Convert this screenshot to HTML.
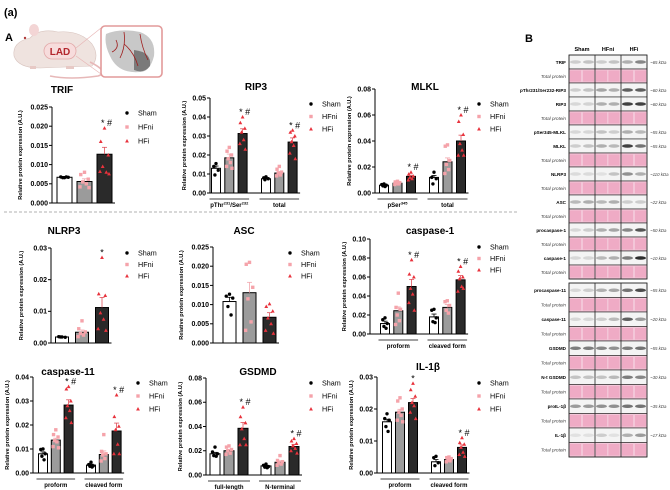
<!DOCTYPE html>
<html><head><meta charset="utf-8">
<style>
html,body{margin:0;padding:0;background:#fff;}
svg{display:block;font-family:"Liberation Sans",Arial,sans-serif;}
</style></head>
<body>
<svg id="fig" width="670" height="490" viewBox="0 0 670 490" xmlns="http://www.w3.org/2000/svg">
  <text x="4" y="16" font-size="11" font-weight="bold">(a)</text>
  <text x="5" y="41" font-size="11" font-weight="bold">A</text>
  <text x="525" y="42" font-size="11" font-weight="bold">B</text>
  <g>
    <path d="M14 56 Q12 42 30 38 Q40 28 58 32 Q80 30 92 44 Q100 56 92 66 L40 68 Q18 68 14 56 Z" fill="#efe3df" stroke="#d8c4bf" stroke-width="0.6"/>
    <ellipse cx="34" cy="30" rx="5" ry="6" fill="#f3d5d5"/>
    <circle cx="25" cy="38" r="1.2" fill="#b03a3a"/>
    <path d="M90 62 Q110 72 98 76 Q70 80 50 76" fill="none" stroke="#e7b8b8" stroke-width="1.6"/>
    <rect x="30" y="66" width="6" height="3" fill="#e7c9c5"/><rect x="66" y="66" width="8" height="3" fill="#e7c9c5"/>
    <rect x="44" y="43" width="32" height="16" rx="8" fill="#f7dcdc" stroke="#e2a8a8" stroke-width="0.8"/>
    <text x="60" y="55" font-size="10" font-weight="bold" fill="#b3262d" text-anchor="middle">LAD</text>
    <line x1="76" y1="48" x2="101" y2="28" stroke="#e8b4b4" stroke-width="0.6"/>
    <line x1="76" y1="56" x2="101" y2="74" stroke="#e8b4b4" stroke-width="0.6"/>
    <rect x="101" y="26" width="61" height="51" rx="4" fill="#fff" stroke="#e29a9a" stroke-width="1.6"/>
    <path d="M106 34 Q120 28 140 32 Q156 38 154 56 Q150 72 140 72 Q118 74 110 56 Q104 44 106 34 Z" fill="#c8c8c8"/>
    <path d="M134 50 Q152 52 150 66 Q144 74 134 70 Z" fill="#7a7a7a"/>
    <path d="M124 32 Q126 46 120 58 M124 44 Q134 52 138 66 M140 34 Q142 48 148 60 M116 40 Q120 48 112 52" stroke="#9e1b1b" stroke-width="0.8" fill="none"/>
  </g>
  <line x1="4" y1="212" x2="518" y2="212" stroke="#999" stroke-width="0.8" stroke-dasharray="3,2"/>
  <g id="charts"></g>
  <g id="blot"></g>
</svg>
<script>
// ---------- DATA ----------
const groupNames = ["Sham","HFni","HFi"];
const trifMeans = [[0.0067,0.0056,0.0127]];
const trifErr = [[0.0002,0.0007,0.0018]];
const trifPts = [[[0.0066,0.0068,0.0067,0.0066,0.0068],[0.008,0.0074,0.0062,0.0055,0.005,0.0042,0.004],[0.0195,0.016,0.0125,0.0095,0.008,0.0082,0.0076]]];
const trifStars = [["","","* #"]];
const trifTicks = [0,0.005,0.010,0.015,0.020,0.025];

const rip3Means = [[0.013,0.0185,0.0313],[0.0075,0.0105,0.0268]];
const rip3Err = [[0.0012,0.002,0.0025],[0.0004,0.0008,0.0022]];
const rip3Pts = [[[0.0155,0.014,0.012,0.0095],[0.024,0.022,0.02,0.018,0.016,0.014,0.013],[0.04,0.037,0.034,0.032,0.028,0.026,0.023]],
                 [[0.0085,0.008,0.0075,0.007],[0.014,0.0125,0.011,0.0105,0.0095,0.009],[0.033,0.032,0.03,0.027,0.025,0.021,0.018]]];
const rip3Stars = [["","","* #"],["","","* #"]];
const rip3Ticks = [0,0.01,0.02,0.03,0.04,0.05];
const rip3Groups = ["pThr231/Ser232","total"];

const mlklMeans = [[0.006,0.0075,0.0128],[0.012,0.024,0.040]];
const mlklErr = [[0.0004,0.0005,0.0009],[0.0015,0.003,0.0045]];
const mlklPts = [[[0.007,0.0065,0.006,0.0055,0.005],[0.009,0.0085,0.008,0.0075,0.007,0.0065],[0.016,0.0145,0.013,0.012,0.011,0.01]],
                 [[0.016,0.012,0.011,0.007],[0.037,0.036,0.025,0.022,0.018,0.015],[0.06,0.055,0.045,0.038,0.033,0.029,0.029]]];
const mlklStars = [["","","* #"],["","","* #"]];
const mlklTicks = [0,0.02,0.04,0.06,0.08];
const mlklGroups = ["pSer345","total"];

const nlrp3Means = [[0.0019,0.0034,0.0112]];
const nlrp3Err = [[0.0001,0.0007,0.0032]];
const nlrp3Pts = [[[0.0019,0.002,0.0018,0.0019],[0.007,0.0045,0.0035,0.003,0.0025,0.002],[0.027,0.0155,0.015,0.0095,0.0075,0.0045,0.004]]];
const nlrp3Stars = [["","","*"]];
const nlrp3Ticks = [0,0.01,0.02,0.03];

const ascMeans = [[0.0108,0.0131,0.0067]];
const ascErr = [[0.0011,0.0027,0.0012]];
const ascPts = [[[0.0127,0.0122,0.0117,0.0095,0.0073],[0.021,0.0205,0.0145,0.0115,0.0055,0.0033],[0.0102,0.0095,0.0083,0.0065,0.005,0.0033,0.0025]]];
const ascStars = [["","",""]];
const ascTicks = [0,0.005,0.010,0.015,0.020,0.025];

const casp1Means = [[0.011,0.0245,0.050],[0.018,0.028,0.057]];
const casp1Err = [[0.0025,0.004,0.0075],[0.003,0.003,0.0045]];
const casp1Pts = [[[0.017,0.015,0.011,0.008,0.006],[0.043,0.028,0.026,0.02,0.014,0.01],[0.078,0.063,0.06,0.048,0.042,0.033,0.025]],
                  [[0.026,0.025,0.017,0.013,0.012],[0.035,0.034,0.03,0.025,0.022],[0.071,0.066,0.06,0.058,0.05,0.045,0.048]]];
const casp1Stars = [["","","* #"],["","","* #"]];
const casp1Ticks = [0,0.02,0.04,0.06,0.08,0.10];
const casp1Groups = ["proform","cleaved form"];

const casp11Means = [[0.008,0.0137,0.0283],[0.0033,0.0077,0.0175]];
const casp11Err = [[0.0008,0.0008,0.0022],[0.0004,0.0015,0.0033]];
const casp11Pts = [[[0.01,0.0098,0.008,0.007,0.0055],[0.018,0.016,0.015,0.0135,0.013,0.011,0.0105],[0.036,0.035,0.03,0.028,0.026,0.023,0.021]],
                   [[0.0045,0.0035,0.003,0.0028,0.0025],[0.016,0.009,0.008,0.0075,0.006,0.005],[0.0325,0.0235,0.0195,0.018,0.012,0.008,0.008]]];
const casp11Stars = [["","","* #"],["","","* #"]];
const casp11Ticks = [0,0.01,0.02,0.03,0.04];
const casp11Groups = ["proform","cleaved form"];

const gsdmdMeans = [[0.0175,0.020,0.0385],[0.0075,0.0105,0.0235]];
const gsdmdErr = [[0.0012,0.001,0.0048],[0.0005,0.0012,0.0018]];
const gsdmdPts = [[[0.023,0.019,0.0175,0.016,0.0155],[0.024,0.023,0.021,0.02,0.018,0.017],[0.056,0.048,0.043,0.038,0.03,0.025,0.025]],
                  [[0.009,0.008,0.007,0.0065,0.006],[0.016,0.012,0.011,0.01,0.009,0.008],[0.03,0.028,0.026,0.024,0.022,0.02,0.018]]];
const gsdmdStars = [["","","* #"],["","","* #"]];
const gsdmdTicks = [0,0.02,0.04,0.06,0.08];
const gsdmdGroups = ["full-length","N-terminal"];

const il1bMeans = [[0.016,0.019,0.022],[0.0035,0.0042,0.0080]];
const il1bErr = [[0.0008,0.0009,0.0013],[0.0007,0.0003,0.0008]];
const il1bPts = [[[0.0185,0.017,0.0165,0.0145,0.013],[0.0235,0.0225,0.02,0.019,0.018,0.0165,0.016],[0.028,0.026,0.024,0.022,0.021,0.019,0.017]],
                 [[0.0052,0.0048,0.0032,0.0023],[0.005,0.0048,0.0045,0.004,0.0038,0.0035],[0.011,0.0095,0.009,0.008,0.0065,0.0058,0.0052]]];
const il1bStars = [["","","*"],["","","* #"]];
const il1bTicks = [0,0.01,0.02,0.03];
const il1bGroups = ["proform","cleaved form"];

// ---------- RENDER ----------
const NS = "http://www.w3.org/2000/svg";
function mk(tag, attrs, parent, text){
  const e = document.createElementNS(NS, tag);
  for (const k in attrs) e.setAttribute(k, attrs[k]);
  if (text !== undefined) e.textContent = text;
  parent.appendChild(e); return e;
}
const barFill = ["#ffffff","#9b9b9b","#2a2a2a"];
const errCol = ["#000","#f2a7ad","#e0505a"];
const jitter = [0,-2.5,2.5,-1.2,1.2,-3,3,0.6];

function drawMarker(g, k, x, y){
  let m;
  if (k===0){ m = mk("circle",{cx:x,cy:y,r:1.7,fill:"#000"},g); }
  else if (k===1){ m = mk("rect",{x:x-1.7,y:y-1.7,width:3.4,height:3.4,fill:"#f5a3aa"},g); }
  else { m = mk("polygon",{points:`${x},${y-2} ${x-1.9},${y+1.5} ${x+1.9},${y+1.5}`,fill:"#e8323c"},g); }
  return m;
}

function chart(c){
  const root = document.getElementById("charts");
  const g = mk("g",{},root);
  
  
  const ymax = c.ticks[c.ticks.length-1];
  const Y = v => c.y0 - (v/ymax)*(c.y0-c.yTop);
  const X = (gi,k) => c.start + gi*c.goff + k*c.step;
  const t = mk("text",{x:c.tx,y:c.ty,"font-size":10,"font-weight":"bold","text-anchor":"middle"},g,c.title);
  
  
  // y axis
  const ax = mk("line",{x1:c.ax,y1:c.yTop,x2:c.ax,y2:c.y0,stroke:"#000","stroke-width":1},g);
  
  
  c.ticks.forEach(v=>{
    mk("line",{x1:c.ax-3,y1:Y(v),x2:c.ax,y2:Y(v),stroke:"#000","stroke-width":1},g);
    const tl = mk("text",{x:c.ax-4,y:Y(v)+2.4,"font-size":7,"font-weight":"bold","text-anchor":"end"},g,v.toFixed(c.dec));
    
    
  });
  const yl = mk("text",{x:0,y:0,"font-size":5.6,"font-weight":"bold","text-anchor":"middle",
    transform:`translate(${c.ax-c.ylOff},${(c.y0+c.yTop)/2}) rotate(-90)`},g,"Relative protein expression (A.U.)");
  
  
  // x axis
  const xEnd = X(c.means.length-1,2)+c.bw/2+3;
  const xa = mk("line",{x1:c.ax,y1:c.y0,x2:xEnd,y2:c.y0,stroke:"#000","stroke-width":1},g);
  
  
  c.means.forEach((grp,gi)=>{
    grp.forEach((m,k)=>{
      const x = X(gi,k);
      const b = mk("rect",{x:x-c.bw/2,y:Y(m),width:c.bw,height:c.y0-Y(m),fill:barFill[k],stroke:"#000","stroke-width":1},g);
      
      
      const e = c.err[gi][k];
      mk("line",{x1:x,y1:Y(m),x2:x,y2:Y(m+e),stroke:errCol[k],"stroke-width":0.8},g);
      mk("line",{x1:x-2.5,y1:Y(m+e),x2:x+2.5,y2:Y(m+e),stroke:errCol[k],"stroke-width":0.8},g);
      const pts = c.pts[gi][k];
      pts.forEach((v,i)=>{
        const p = drawMarker(g,k,x+jitter[i%jitter.length]*(c.bw/10),Y(v));
        
        
      });
      const s = c.stars[gi][k];
      if (s){
        const top = Math.max(Math.max(...pts), m+e);
        const st = mk("text",{x:x+(s.length>1?2:0),y:Y(top)-2,"font-size":9,"text-anchor":"middle"},g,s);
        
        
      }
    });
    if (c.groups){
      const gx0 = X(gi,0)-c.bw/2-2, gx1 = X(gi,2)+c.bw/2+2;
      mk("line",{x1:gx0,y1:c.y0+6,x2:gx1,y2:c.y0+6,stroke:"#000","stroke-width":0.8},g);
      const lbl = c.groups[gi];
      const gt = mk("text",{x:(gx0+gx1)/2,y:c.y0+14,"font-size":6,"font-weight":"bold","text-anchor":"middle"},g);
      
      
      const m2 = lbl.match(/^(pThr)(\d+)(\/Ser)(\d+)$/) || lbl.match(/^(pSer)(\d+)$/);
      if (m2){
        mk("tspan",{},gt,m2[1]); mk("tspan",{dy:-2.5,"font-size":4},gt,m2[2]);
        if (m2[3]){ mk("tspan",{dy:2.5},gt,m2[3]); mk("tspan",{dy:-2.5,"font-size":4},gt,m2[4]); }
      } else gt.textContent = lbl;
    }
  });
  // legend
  groupNames.forEach((n,k)=>{
    const ly = c.ly + k*c.lstep;
    const lm = drawMarker(g,k,c.lx,ly);
    
    
    const lt = mk("text",{x:c.lx+11,y:ly+2.5,"font-size":7.2},g,n);
    
    
  });
}

const C = [
 {name:"trif",title:"TRIF",tx:62,ty:93,ax:52,y0:203,yTop:107,ticks:trifTicks,dec:3,means:trifMeans,err:trifErr,pts:trifPts,stars:trifStars,start:64.5,step:20,goff:0,bw:15,lx:127,ly:113,lstep:14,ylOff:30},
 {name:"rip3",title:"RIP3",tx:256,ty:90,ax:210,y0:193,yTop:98,ticks:rip3Ticks,dec:2,means:rip3Means,err:rip3Err,pts:rip3Pts,stars:rip3Stars,groups:rip3Groups,start:216,step:13.3,goff:50,bw:9,lx:311,ly:104,lstep:12.5,ylOff:24},
 {name:"mlkl",title:"MLKL",tx:425,ty:90,ax:375,y0:193,yTop:89,ticks:mlklTicks,dec:2,means:mlklMeans,err:mlklErr,pts:mlklPts,stars:mlklStars,groups:mlklGroups,start:384,step:13.5,goff:50,bw:9,lx:479,ly:104,lstep:12.5,ylOff:24},
 {name:"nlrp3",title:"NLRP3",tx:64,ty:234,ax:51,y0:343,yTop:248,ticks:nlrp3Ticks,dec:2,means:nlrp3Means,err:nlrp3Err,pts:nlrp3Pts,stars:nlrp3Stars,start:62,step:20,goff:0,bw:13,lx:127,ly:253,lstep:11.5,ylOff:28},
 {name:"asc",title:"ASC",tx:244,ty:234,ax:213,y0:343,yTop:247,ticks:ascTicks,dec:3,means:ascMeans,err:ascErr,pts:ascPts,stars:ascStars,start:229.5,step:20,goff:0,bw:13,lx:290,ly:253,lstep:11.5,ylOff:30},
 {name:"caspase-1",title:"caspase-1",tx:430,ty:234,ax:370,y0:334,yTop:239,ticks:casp1Ticks,dec:2,means:casp1Means,err:casp1Err,pts:casp1Pts,stars:casp1Stars,groups:casp1Groups,start:385,step:13.3,goff:49,bw:9,lx:479,ly:247,lstep:11.5,ylOff:24},
 {name:"caspase-11",title:"caspase-11",tx:68,ty:375,ax:33,y0:473,yTop:377,ticks:casp11Ticks,dec:2,means:casp11Means,err:casp11Err,pts:casp11Pts,stars:casp11Stars,groups:casp11Groups,start:43,step:12.8,goff:48,bw:9,lx:138,ly:383,lstep:13,ylOff:24},
 {name:"gsdmd",title:"GSDMD",tx:258,ty:375,ax:206,y0:475,yTop:378,ticks:gsdmdTicks,dec:2,means:gsdmdMeans,err:gsdmdErr,pts:gsdmdPts,stars:gsdmdStars,groups:gsdmdGroups,start:215,step:14,goff:51,bw:10,lx:311,ly:383,lstep:13,ylOff:24},
 {name:"il-1b",title:"IL-1β",tx:428,ty:370,ax:377,y0:473,yTop:377,ticks:il1bTicks,dec:2,means:il1bMeans,err:il1bErr,pts:il1bPts,stars:il1bStars,groups:il1bGroups,start:387,step:13,goff:49,bw:9,lx:479,ly:383,lstep:13,ylOff:24}
];
C.forEach(chart);

// ---------- BLOT ----------
const blotRows1 = ["TRIF","Total protein","pThr231/Ser232-RIP3","RIP3","Total protein","pSer345-MLKL","MLKL","Total protein","NLRP3","Total protein","ASC","Total protein","procaspase-1","Total protein","caspase-1","Total protein"];
const blotKda1 = ["~65 kDa","","~60 kDa","~60 kDa","","~55 kDa","~55 kDa","","~110 kDa","","~22 kDa","","~50 kDa","","~10 kDa",""];
const blotInt1 = [[.15,.2,.15,.2,.3,.5],null,[.15,.2,.35,.3,.7,.7],[.1,.12,.3,.3,.85,.85],null,[.1,.1,.2,.15,.3,.25],[.15,.2,.3,.25,.85,.6],null,[.08,.08,.05,.2,.45,.3],null,[.25,.3,.25,.3,.15,.15],null,[.1,.15,.3,.35,.5,.75],null,[.1,.1,.25,.3,.55,.95],null];
const blotRows2 = ["procaspase-11","Total protein","caspase-11","Total protein","GSDMD","Total protein","N-t GSDMD","Total protein","proIL-1β","Total protein","IL-1β","Total protein"];
const blotKda2 = ["~55 kDa","","~20 kDa","","~55 kDa","","~30 kDa","","~35 kDa","","~17 kDa",""];
const blotInt2 = [[.1,.15,.3,.35,.6,.8],null,[.1,.1,.15,.25,.7,.4],null,[.55,.55,.5,.45,.55,.6],null,[.2,.2,.2,.25,.55,.5],null,[.4,.4,.45,.45,.6,.6],null,[.05,.05,.15,.05,.3,.4],null];

const B = document.getElementById("blot");
const bx0 = 569, bx1 = 647, lanes = [575.5,588.5,601.5,614,627.5,640.5];
["Sham","HFni","HFi"].forEach((h,i)=>{
  const t = mk("text",{x:[582,608,634][i],y:51,"font-size":5.5,"font-weight":"bold","text-anchor":"middle"},B,h);
  
  
});
function blotBox(rows, kda, ints, top, bottom){
  const rh = (bottom-top)/rows.length;
  rows.forEach((r,i)=>{
    const y = top + i*rh;
    const total = ints[i]===null;
    const row = mk("rect",{x:bx0,y:y,width:bx1-bx0,height:rh,fill:total?"#f3c6d8":"#f4f4f4",stroke:"#222","stroke-width":0.6},B);
    
    
    if (total){
      lanes.forEach(lx=>mk("rect",{x:lx-5.5,y:y+1.5,width:11,height:rh-3,fill:"#ec9fbe",opacity:0.7},B));
    } else {
      ints[i].forEach((v,j)=>{
        const c = Math.round(235 - v*200);
        mk("ellipse",{cx:lanes[j],cy:y+rh/2,rx:5.5,ry:1.8,fill:`rgb(${c},${c},${c})`},B);
      });
    }
    const lbl = mk("text",{x:566,y:y+rh/2+1.8,"font-size":total?4.6:4.6,"font-weight":total?"normal":"bold","font-style":total?"italic":"normal","text-anchor":"end",fill:total?"#444":"#000"},B,r);
    
    
    if (kda[i]){
      const kt = mk("text",{x:650,y:y+rh/2+1.8,"font-size":4.4,"font-style":"italic",fill:"#444"},B,kda[i]);
      
      
    }
  });
  [595,621].forEach(x=>mk("line",{x1:x,y1:top,x2:x,y2:bottom,stroke:"#222","stroke-width":0.8},B));
  mk("rect",{x:bx0,y:top,width:bx1-bx0,height:bottom-top,fill:"none",stroke:"#222","stroke-width":0.8},B);
}
blotBox(blotRows1, blotKda1, blotInt1, 55, 279);
blotBox(blotRows2, blotKda2, blotInt2, 283, 457);
</script>
</body></html>
